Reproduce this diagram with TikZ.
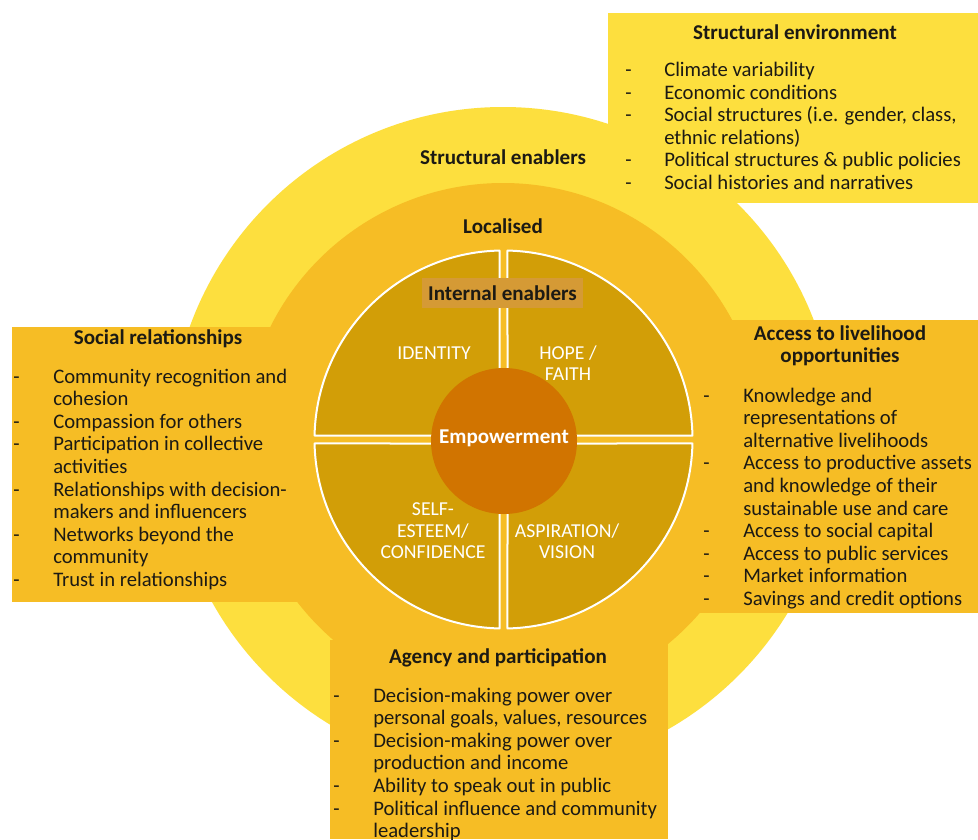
\documentclass[tikz,border=0pt]{standalone}
\usepackage{fontspec}
\setmainfont{Carlito}
\definecolor{sunny}{HTML}{FDDF3E}
\definecolor{amber}{HTML}{F6BD25}
\definecolor{ochre}{HTML}{D29E07}
\definecolor{core}{HTML}{D17400}
\definecolor{tag}{HTML}{D59A35}
\definecolor{ink}{HTML}{1C1A14}

\tikzset{
  head/.style={font=\fontsize{15.8}{16.5}\selectfont\bfseries,text=ink,inner sep=0pt,align=center},
  lst/.style={font=\fontsize{15.5}{16.95}\selectfont,text=ink,inner sep=0pt,anchor=north west},
  quad/.style={fill=ochre,draw=white,line width=1.5pt,line join=round},
  inlbl/.style={font=\fontsize{14.8}{16.1}\selectfont,text=white,align=center,inner sep=0pt},
  tagbox/.style={head,fill=tag,minimum width=120.75pt,minimum height=22.5pt}
}
% dash column + item column
\newcommand{\dashlist}[2]{\begin{tabular}{@{}p{#1}@{}l@{}}#2\end{tabular}}

\begin{document}
\begin{tikzpicture}[x=0.75pt,y=-0.75pt]
\useasboundingbox (0,0) rectangle (978,839);
\fill[white] (0,0) rectangle (978,839);
% rings and boxes
\fill[sunny] (503,440) circle[radius=333];
\fill[sunny] (608,13) rectangle (978,203);
\fill[amber] (503,443) circle[radius=260];
\foreach \x/\y/\X/\Y in {12/327/305/602,700/320/978/613,330/640/668/839}
  \fill[amber] (\x,\y) rectangle (\X,\Y);
% four quarters
\begin{scope}[shift={(503.5,439.5)}]
\foreach \a in {0,90,180,270}
  \draw[quad,rotate=\a] (4,4) -- (88.79:189) arc[start angle=88.79,end angle=1.21,radius=189] -- cycle;
\end{scope}
\fill[core] (504,441) circle[radius=73];

\node[head] (structural) at (503,157) {Structural enablers};
\node[head] (localised) at (503,226) {Localised};
\node[tagbox] (internal) at (502.5,293) {Internal enablers};
\node[head,text=white] (empower) at (504,438) {Empowerment};
\node[inlbl] (identity) at (434,353) {IDENTITY};
\node[inlbl] (hope) at (568,363) {HOPE /\\FAITH};
\node[inlbl] (esteem) at (433,531) {SELF-\\ESTEEM/\\CONFIDENCE};
\node[inlbl] (aspire) at (567,541) {ASPIRATION/\\VISION};

% environment
\node[head] (envtitle) at (795,32) {Structural environment};
\node[lst] (envlist) at (625,60.4) {\dashlist{29.25pt}{
  - & Climate variability\\
  - & Economic conditions\\
  - & Social structures (i.e. gender, class,\\
    & ethnic relations)\\
  - & Political structures \& public policies\\
  - & Social histories and narratives}};

% social
\node[head] (soctitle) at (158,339) {Social relationships};
\node[lst] (soclist) at (13,367.1) {\dashlist{30pt}{
  - & Community recognition and\\
    & cohesion\\
  - & Compassion for others\\
  - & Participation in collective\\
    & activities\\
  - & Relationships with decision-\\
    & makers and influencers\\
  - & Networks beyond the\\
    & community\\
  - & Trust in relationships}};

% livelihood
\node[head] (livtitle) at (840,346) {Access to livelihood\\opportunities};
\node[lst] (livlist) at (703,386.1) {\dashlist{30pt}{
  - & Knowledge and\\
    & representations of\\
    & alternative livelihoods\\
  - & Access to productive assets\\
    & and knowledge of their\\
    & sustainable use and care\\
  - & Access to social capital\\
  - & Access to public services\\
  - & Market information\\
  - & Savings and credit options}};

% agency
\node[head] (agtitle) at (498,658) {Agency and participation};
\node[lst] (aglist) at (333,686.1) {\dashlist{30pt}{
  - & Decision-making power over\\
    & personal goals, values, resources\\
  - & Decision-making power over\\
    & production and income\\
  - & Ability to speak out in public\\
  - & Political influence and community\\
    & leadership}};
\end{tikzpicture}
\end{document}
